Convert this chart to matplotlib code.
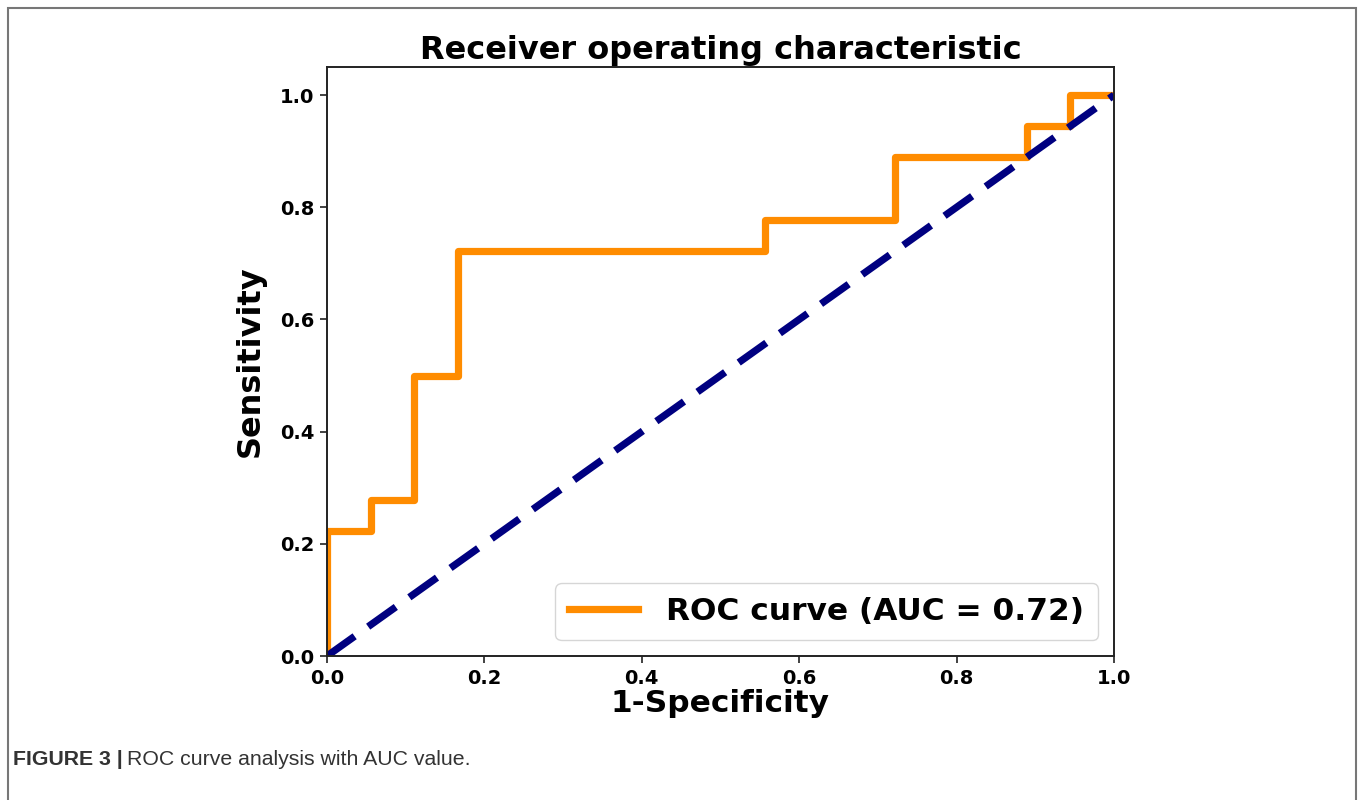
import matplotlib
matplotlib.use("Agg")
import matplotlib.pyplot as plt
from matplotlib.patches import Rectangle

# Data
fpr = [0.0, 0.0, 0.056, 0.056, 0.111, 0.111, 0.167, 0.167, 0.556, 0.556,
       0.722, 0.722, 0.889, 0.889, 0.944, 0.944, 1.0]
tpr = [0.0, 0.222, 0.222, 0.278, 0.278, 0.5, 0.5, 0.722, 0.722, 0.778,
       0.778, 0.889, 0.889, 0.944, 0.944, 1.0, 1.0]
chance = [0.0, 1.0]
auc_value = 0.72
xticks = [0.0, 0.2, 0.4, 0.6, 0.8, 1.0]
yticks = [0.0, 0.2, 0.4, 0.6, 0.8, 1.0]

plt.rcParams['font.family'] = ['DejaVu Sans']

W, H = 1358, 800
fig = plt.figure(figsize=(W / 100, H / 100), dpi=100)
fig.patch.set_facecolor('white')

# outer frame
fig.patches.append(Rectangle((8 / W, -0.05), (1356 - 8) / W, (H - 8) / H + 0.05,
                             transform=fig.transFigure, fill=False,
                             edgecolor='#777777', linewidth=1.5))

ax = fig.add_axes([327 / W, 1 - 656 / H, (1114 - 327) / W, (656 - 67) / H])
ax.plot(fpr, tpr, color='darkorange', lw=5.2,
        label='ROC curve (AUC = %0.2f)' % auc_value)
ax.plot(chance, chance, color='navy', lw=5.2, linestyle=(0, (4.7, 2.3)))
ax.set_xlim(0.0, 1.0)
ax.set_ylim(0.0, 1.05)
ax.set_xticks(xticks)
ax.set_yticks(yticks)
ax.set_xticklabels(['%.1f' % v for v in xticks], fontsize=14, fontweight='bold')
ax.set_yticklabels(['%.1f' % v for v in yticks], fontsize=14, fontweight='bold')
ax.tick_params(length=5, width=1.3, color='#333333', pad=4)
for s in ax.spines.values():
    s.set_linewidth(1.4)
    s.set_color('#222222')
ax.set_xlabel('1-Specificity', fontsize=22.5, fontweight='bold', labelpad=1)
ax.set_ylabel('Sensitivity', fontsize=23, fontweight='bold', labelpad=10)
ax.set_title('Receiver operating characteristic', fontsize=23,
             fontweight='bold', pad=6)
leg = ax.legend(loc='lower right', prop={'size': 22.5, 'weight': 'bold'},
                handlelength=2.2, handletextpad=0.9, borderaxespad=0.5,
                borderpad=0.45)

# caption
t1 = fig.text(13 / W, 1 - 765 / H, 'FIGURE 3 |', fontsize=15.3, fontweight='bold',
              color='#333333', family='Liberation Sans', va='baseline')
fig.canvas.draw()
r = fig.canvas.get_renderer()
bb = t1.get_window_extent(r)
fig.text(bb.x1 / W + 4 / W, 1 - 765 / H, 'ROC curve analysis with AUC value.',
         fontsize=15.3, color='#333333', family='Liberation Sans', va='baseline')

fig.savefig('out.png', dpi=100)
